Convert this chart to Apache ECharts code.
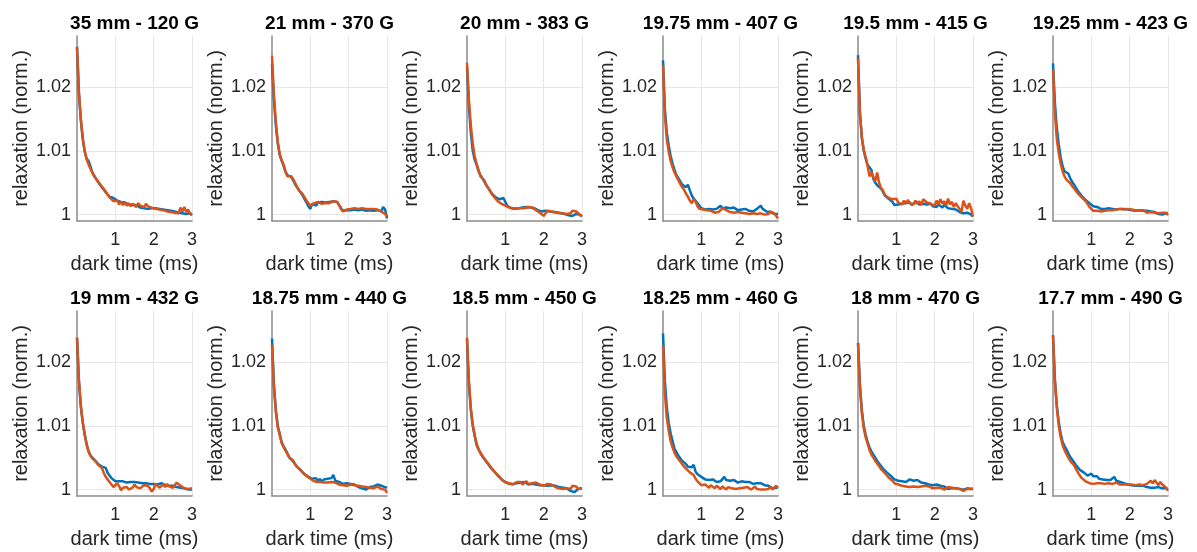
<!DOCTYPE html>
<html>
<head>
<meta charset="utf-8">
<script src="https://cdn.jsdelivr.net/npm/echarts@6/dist/echarts.min.js"></script>
<style>
html,body{margin:0;padding:0;background:#fff;}
#chart{width:1197px;height:552px;}
</style>
</head>
<body>
<div id="chart"></div>
<script>
// ---- data ----
const panelTitles = ["35 mm - 120 G","21 mm - 370 G","20 mm - 383 G","19.75 mm - 407 G","19.5 mm - 415 G","19.25 mm - 423 G","19 mm - 432 G","18.75 mm - 440 G","18.5 mm - 450 G","18.25 mm - 460 G","18 mm - 470 G","17.7 mm - 490 G"];
const xTicks = [1, 2, 3];
const yTicks = [1, 1.01, 1.02];
const time = [0,0.05,0.1,0.15,0.2,0.25,0.3,0.35,0.4,0.45,0.5,0.55,0.6,0.65,0.7,0.75,0.8,0.85,0.9,0.95,1,1.05,1.1,1.15,1.2,1.25,1.3,1.35,1.4,1.45,1.5,1.55,1.6,1.65,1.7,1.75,1.8,1.85,1.9,1.95,2,2.05,2.1,2.15,2.2,2.25,2.3,2.35,2.4,2.45,2.5,2.55,2.6,2.65,2.7,2.75,2.8,2.85,2.9,2.95,3];

const blue1 = [1.0263,1.019,1.0148,1.0119,1.0099,1.0088,1.0084,1.0076,1.0066,1.006,1.0056,1.0051,1.0047,1.0043,1.0039,1.0035,1.0032,1.0028,1.0025,1.0026,1.0027,1.0022,1.0019,1.002,1.0018,1.0019,1.0017,1.0016,1.0017,1.0015,1.0014,1.0015,1.0012,1.0011,1.0012,1.001,1.0011,1.0009,1.0008,1.001,1.0009,1.001,1.0008,1.0009,1.0007,1.0008,1.0006,1.0007,1.0005,1.0006,1.0004,1.0005,1.0004,1.0003,1.0004,1.0002,1,1.0001,0.9999,1.0002,0.9999];
const orange1 = [1.0263,1.0192,1.015,1.012,1.01,1.0087,1.0079,1.0072,1.0066,1.0061,1.0056,1.0052,1.0048,1.0044,1.004,1.0036,1.0031,1.0027,1.0024,1.0021,1.0019,1.0022,1.0016,1.002,1.0015,1.0019,1.0014,1.0018,1.0013,1.0017,1.0015,1.0012,1.0018,1.0014,1.0016,1.0012,1.0017,1.0013,1.0015,1.0011,1.0014,1.0009,1.0012,1.0008,1.0011,1.0007,1.0009,1.0005,1.0008,1.0004,1.0007,1.0003,1.0006,1.0002,1.0011,1.0005,1.0012,1.0004,1.0008,1.0001,1.0002];
const blue2 = [1.0236,1.018,1.014,1.0112,1.0094,1.0085,1.0077,1.0068,1.0062,1.006,1.0059,1.0054,1.0048,1.0043,1.0039,1.0036,1.003,1.0024,1.0019,1.0013,1.0009,1.0017,1.002,1.0014,1.0019,1.0016,1.002,1.0017,1.0019,1.0017,1.002,1.0018,1.0021,1.0023,1.002,1.0015,1.001,1.0006,1.0005,1.0007,1.0009,1.0007,1.001,1.0008,1.0009,1.0007,1.001,1.0008,1.0009,1.0006,1.0009,1.0007,1.0008,1.0006,1.0009,1.0007,1.0006,1.0005,1.0012,1.0008,0.9994];
const orange2 = [1.0249,1.0188,1.0146,1.0114,1.0095,1.0085,1.0079,1.0067,1.006,1.0057,1.006,1.0056,1.005,1.0044,1.0038,1.0036,1.0032,1.0027,1.0022,1.0018,1.0014,1.0015,1.0018,1.0017,1.002,1.0018,1.0017,1.0019,1.0018,1.002,1.0018,1.0019,1.0021,1.0024,1.002,1.0015,1.0009,1.0005,1.0006,1.0008,1.0007,1.0009,1.0008,1.001,1.0008,1.0009,1.0007,1.001,1.0008,1.0009,1.0007,1.0009,1.0008,1.0009,1.0007,1.0008,1.0006,1.0005,1.0004,1.0001,0.9997];
const blue3 = [1.0232,1.017,1.0128,1.01,1.0086,1.0078,1.0068,1.0062,1.006,1.0052,1.0046,1.0042,1.0037,1.0033,1.003,1.0027,1.0025,1.0024,1.0025,1.0026,1.002,1.0014,1.0012,1.001,1.0011,1.0009,1.0011,1.001,1.0009,1.0011,1.001,1.0012,1.0009,1.0011,1.0008,1.001,1.0009,1.0007,1.0006,1.0005,1.0004,1.0006,1.0007,1.0005,1.0006,1.0004,1.0005,1.0003,1.0004,1.0002,1.0003,1.0001,1,0.9999,1.0001,0.9998,1,1.0001,0.9999,1,0.9997];
const orange3 = [1.0238,1.018,1.014,1.0111,1.0092,1.008,1.007,1.006,1.0058,1.0054,1.0047,1.0042,1.0038,1.0032,1.0028,1.0025,1.0021,1.0019,1.0017,1.0015,1.0014,1.0012,1.0011,1.0012,1.001,1.0011,1.001,1.0011,1.001,1.0012,1.001,1.0011,1.0012,1.0009,1.0011,1.0008,1.0007,1.0009,1.0003,1.0001,0.9998,1.0002,1.0006,1.0003,1.0005,1.0007,1.0004,1.0006,1.0003,1.0005,1.0002,1.0004,1.0001,1.0003,1.0002,1.0006,1.0009,1.0005,1.0002,0.9999,0.9998];
const blue4 = [1.0242,1.0165,1.0128,1.0108,1.0092,1.008,1.007,1.0062,1.0057,1.0052,1.0047,1.0044,1.0043,1.0047,1.0038,1.003,1.0025,1.0022,1.0018,1.0014,1.001,1.0012,1.0008,1.0011,1.0009,1.0012,1.0008,1.001,1.0009,1.0011,1.0014,1.001,1.0008,1.0011,1.0009,1.001,1.0008,1.0011,1.0009,1.0007,1.001,1.0008,1.0006,1.0009,1.0007,1.0006,1.0008,1.0005,1.0007,1.0009,1.0012,1.0014,1.0009,1.0007,1.0005,1.0003,1.0004,1.0002,1.0001,1.0003,1.0001];
const orange4 = [1.0235,1.0155,1.0118,1.0098,1.0084,1.0074,1.0066,1.006,1.0054,1.0048,1.0043,1.0039,1.0033,1.0028,1.0022,1.0018,1.0024,1.002,1.0013,1.0009,1.0006,1.0008,1.0005,1.0007,1.0004,1.0006,1.0005,1.0003,1.0006,1.0004,1.0007,1.001,1.0013,1.0007,1.0005,1.0004,1.0006,1.0003,1.0005,1.0004,1.0006,1.0003,1.0005,1.0002,1.0004,1.0001,1.0003,1.0002,1.0004,1.0001,1.0003,1.0002,1.0001,1,1.0003,1.0001,1.0005,1.0006,1.0002,1.0004,0.9994];
const blue5 = [1.025,1.016,1.012,1.01,1.0088,1.0078,1.008,1.007,1.0056,1.005,1.0046,1.0043,1.0041,1.0036,1.003,1.0027,1.0025,1.0023,1.002,1.0015,1.0012,1.0016,1.0014,1.0017,1.0015,1.0018,1.0016,1.0019,1.0015,1.0017,1.002,1.0018,1.0016,1.0019,1.0017,1.002,1.0016,1.0014,1.0017,1.0013,1.0015,1.0012,1.0016,1.0014,1.0011,1.0015,1.0012,1.001,1.0013,1.0009,1.001,1.0008,1.0006,1.0004,1.0003,1.0002,1.0001,1.0003,1.0001,1,0.9997];
const orange5 = [1.0245,1.016,1.0122,1.0102,1.009,1.0076,1.006,1.0066,1.0064,1.0052,1.0066,1.005,1.0042,1.0038,1.0031,1.0028,1.0026,1.0024,1.0024,1.0022,1.0025,1.0019,1.0021,1.0016,1.0022,1.0017,1.0023,1.0018,1.002,1.0016,1.0022,1.0017,1.0021,1.0015,1.0024,1.0026,1.0019,1.0022,1.0017,1.002,1.0014,1.0022,1.0016,1.0024,1.0017,1.0021,1.0014,1.0025,1.0016,1.002,1.0012,1.0018,1.0013,1.0009,1.0004,1.0022,1.0014,1.0009,1.0018,1.001,0.9997];
const blue6 = [1.0237,1.0175,1.0135,1.011,1.009,1.0076,1.0068,1.0066,1.0064,1.0057,1.0051,1.0047,1.0042,1.0037,1.0033,1.0029,1.0026,1.0023,1.002,1.0018,1.0016,1.0013,1.0011,1.0012,1.001,1.0009,1.0011,1.0009,1.0012,1.001,1.0011,1.0009,1.001,1.0008,1.001,1.0009,1.0011,1.0009,1.001,1.0008,1.0009,1.0007,1.0009,1.0006,1.0008,1.0007,1.0005,1.0006,1.0004,1.0006,1.0003,1.0005,1.0002,1.0004,1.0003,1.0001,1.0002,1,1.0001,1.0002,1.0002];
const orange6 = [1.0228,1.016,1.0118,1.0096,1.008,1.0068,1.006,1.0055,1.0052,1.0049,1.0045,1.0041,1.0037,1.0033,1.003,1.0027,1.0024,1.0021,1.0017,1.0012,1.0009,1.0006,1.0004,1.0006,1.0008,1.0005,1.0007,1.0006,1.0008,1.0007,1.0008,1.0007,1.0006,1.0008,1.0007,1.0009,1.0006,1.0008,1.0007,1.0009,1.0006,1.0008,1.0006,1.0007,1.0005,1.0006,1.0004,1.0007,1.0005,1.0003,1.0006,1.0004,1.0005,1.0003,1.0004,1.0002,1.0004,1.0003,1.0005,1.0003,0.9999];
const blue7 = [1.0238,1.017,1.013,1.0105,1.0087,1.0072,1.006,1.0054,1.005,1.0047,1.0044,1.004,1.0038,1.0036,1.0037,1.0034,1.0026,1.0022,1.0018,1.0015,1.0013,1.0012,1.0013,1.0012,1.0013,1.0012,1.0011,1.0013,1.0012,1.0011,1.0012,1.001,1.0011,1.0012,1.001,1.0011,1.001,1.0011,1.0009,1.001,1.0009,1.001,1.0008,1.0009,1.001,1.0008,1.0007,1.0008,1.0006,1.0007,1.0006,1.0005,1.0004,1.0005,1.0003,1.0004,1.0002,1.0001,1,1.0001,1];
const orange7 = [1.0238,1.0172,1.0132,1.0106,1.0086,1.0071,1.006,1.0053,1.0049,1.0046,1.0043,1.0039,1.0037,1.0034,1.0026,1.002,1.0016,1.0012,1.0008,1.0004,1.0007,1.001,1.0005,0.9999,1.0003,1.0006,1.0004,1,0.9998,1.0003,1.0008,1.0004,1.0006,1.0002,1.0005,1.0007,1.0004,1.0006,1.0002,0.9997,1.0001,1.0009,1.0006,1.0003,1.0006,1.0008,1.0004,1.0009,1.0005,1.0007,1.0003,1.0005,1.0011,1.0014,1.0006,1.0007,1.0002,1,1.0001,1.0002,1.0002];
const blue8 = [1.0237,1.0165,1.0125,1.01,1.0088,1.0075,1.0068,1.0063,1.0057,1.0051,1.0048,1.0044,1.004,1.0036,1.0033,1.003,1.0027,1.0024,1.0022,1.002,1.0018,1.0017,1.0014,1.0018,1.0013,1.0017,1.0012,1.0016,1.0014,1.0017,1.0015,1.0018,1.0023,1.0014,1.0013,1.0012,1.001,1.0009,1.0008,1.001,1.0008,1.0009,1.0007,1.0008,1.0006,1.0004,1.0005,1.0002,1.0003,1,1.0002,1.0004,1.0001,1.0005,1.0006,1.0008,1.0005,1.0006,1.0003,1.0004,1.0003];
const orange8 = [1.0227,1.016,1.0122,1.0098,1.0086,1.0073,1.0067,1.0064,1.0056,1.005,1.005,1.0046,1.004,1.0036,1.0033,1.003,1.0027,1.0024,1.0022,1.0019,1.0017,1.0015,1.0013,1.0012,1.0011,1.0012,1.001,1.0011,1.0009,1.0011,1.001,1.0012,1.0009,1.0011,1.001,1.0008,1.0009,1.0007,1.0008,1.0006,1.0007,1.0008,1.0006,1.0007,1.0005,1.0006,1.0003,1.0005,1.0006,1.0004,1.0007,1.0003,1.0005,1.0002,1.0004,1.0005,1.0003,1.0001,1.0004,1,0.9995];
const blue9 = [1.0236,1.0165,1.0125,1.01,1.0084,1.007,1.0063,1.0058,1.0052,1.005,1.0044,1.004,1.0036,1.0032,1.0029,1.0026,1.0022,1.002,1.0016,1.0013,1.0012,1.0011,1.0009,1.0011,1.0009,1.0012,1.001,1.0008,1.0011,1.0009,1.0012,1.001,1.0008,1.0011,1.0009,1.001,1.0008,1.0009,1.0007,1.0008,1.0007,1.0008,1.0006,1.0008,1.0007,1.0005,1.0006,1.0003,1.0004,1.0002,1.0003,1,1.0002,1.0001,0.9998,1,0.9996,0.9999,1.0001,1,1.0002];
const orange9 = [1.0238,1.017,1.0128,1.0102,1.0086,1.0072,1.0064,1.0057,1.0053,1.0051,1.0045,1.0041,1.0037,1.0033,1.003,1.0026,1.0023,1.002,1.0016,1.0013,1.0011,1.0012,1.001,1.0012,1.0008,1.0011,1.0012,1.0009,1.0012,1.0008,1.0011,1.0013,1.0009,1.0012,1.001,1.0008,1.0011,1.0009,1.0008,1.001,1.0006,1.0008,1.0009,1.0007,1.0008,1.0006,1.0004,1.0007,1.0002,1.0005,1.0001,1.0004,1.0002,1.0005,1.0001,1.0006,1.0003,1.0005,1.0001,1.0002,1.0002];
const blue10 = [1.0245,1.017,1.0128,1.0104,1.0088,1.0076,1.0064,1.0059,1.0053,1.0049,1.0045,1.0042,1.004,1.0036,1.0033,1.0035,1.0039,1.0028,1.0024,1.0022,1.002,1.0018,1.0016,1.0014,1.0015,1.0013,1.0016,1.0014,1.0012,1.0015,1.0013,1.0016,1.002,1.0015,1.0013,1.0014,1.0012,1.0015,1.0013,1.0011,1.0012,1.0013,1.0011,1.0012,1.001,1.0012,1.0011,1.0009,1.0012,1.001,1.0008,1.001,1.0011,1.0007,1.0005,1.0006,1.0004,1.0002,1.0005,1.0003,1.0004];
const orange10 = [1.0226,1.015,1.0112,1.0092,1.0076,1.0066,1.0058,1.0052,1.0048,1.0044,1.004,1.0037,1.0033,1.003,1.0027,1.0025,1.0023,1.0017,1.0013,1.001,1.0007,1.0005,1.0008,1.0006,1.0003,1.0007,1.0005,1.0002,1.0006,1.0004,1.0001,1.0005,1.0003,1,1.0004,1.0006,1.0002,1.0005,1.0001,1.0004,1.0002,1.0005,1.0003,1.0001,1.0004,1.0002,1,1.0003,1.0005,1.0001,1.0004,1,1.0002,1,1.0003,1.0001,1.0005,1,0.9999,1.0006,1.0003];
const blue11 = [1.023,1.0165,1.0125,1.01,1.0086,1.0075,1.0066,1.006,1.0055,1.005,1.0045,1.0041,1.0037,1.0033,1.003,1.0027,1.0024,1.0022,1.0019,1.0016,1.0015,1.0014,1.0015,1.0013,1.0015,1.0012,1.0014,1.0016,1.0013,1.0014,1.0012,1.0015,1.0013,1.0011,1.0012,1.001,1.0009,1.0008,1.0009,1.0007,1.0006,1.0008,1.0005,1.0006,1.0004,1.0005,1.0003,1.0001,0.9999,1.0002,1.0004,1.0002,1.0003,1.0001,1.0002,1,1.0001,1.0002,1.0003,1.0001,1.0002];
const orange11 = [1.0229,1.0162,1.012,1.0096,1.0082,1.0072,1.0062,1.0055,1.005,1.0045,1.0041,1.0037,1.0032,1.0029,1.0026,1.0023,1.0019,1.0017,1.0014,1.001,1.0009,1.0008,1.0007,1.0006,1.0007,1.0005,1.0006,1.0004,1.0006,1.0005,1.0007,1.0004,1.0006,1.0005,1.0004,1.0006,1.0003,1.0005,1.0004,1.0002,1.0004,1.0003,1.0001,1.0003,1.0002,1,1.0002,1.0004,1.0001,1.0003,1.0001,1.0002,0.9999,1.0001,1,0.9998,0.9999,1.0001,0.9999,1.0001,1.0001];
const blue12 = [1.0242,1.0172,1.0132,1.0106,1.0088,1.0075,1.0068,1.0063,1.0057,1.0051,1.0048,1.0043,1.0038,1.0035,1.0031,1.0029,1.0027,1.0024,1.0022,1.0024,1.0025,1.0021,1.0019,1.0021,1.0017,1.002,1.0016,1.0019,1.0015,1.0018,1.0015,1.0016,1.002,1.0014,1.0013,1.0012,1.0011,1.001,1.0009,1.0008,1.0008,1.0007,1.0008,1.0006,1.0007,1.0006,1.0005,1.0006,1.0005,1.0004,1.0005,1.0003,1.0004,1.0003,1.0002,1.0004,1.0003,1.0002,1.0001,1.0002,1.0001];
const orange12 = [1.0242,1.017,1.0128,1.01,1.0082,1.007,1.0062,1.0056,1.005,1.0045,1.0043,1.0038,1.0032,1.0027,1.0022,1.0018,1.0015,1.0013,1.0012,1.001,1.001,1.0009,1.0011,1.001,1.0012,1.001,1.0011,1.0009,1.0012,1.001,1.0011,1.0009,1.001,1.0011,1.001,1.0008,1.0009,1.0008,1.0007,1.0008,1.0007,1.0008,1.0006,1.0007,1.0005,1.0008,1.0006,1.0007,1.0004,1.0009,1.0006,1.0014,1.001,1.0015,1.0012,1.0007,1.0012,1.0008,1.0005,1.0003,0.9998];

const blueSeries = [blue1,blue2,blue3,blue4,blue5,blue6,blue7,blue8,blue9,blue10,blue11,blue12];
const orangeSeries = [orange1,orange2,orange3,orange4,orange5,orange6,orange7,orange8,orange9,orange10,orange11,orange12];

// ---- layout ----
const FONT = "'Liberation Sans', Arial, Helvetica, sans-serif";
const colLefts = [77, 272, 467, 663, 858, 1053];
const rowTops = [36, 311];
const W = 115, H = 185;
const BLUE = '#0072BD', ORANGE = '#D95319';
const axisCol = '#8a8a8a', txtCol = '#262626';

const grids = [], xAxes = [], yAxes = [], series = [], titles = [];
for (let p = 0; p < 12; p++) {
  const r = Math.floor(p / 6), c = p % 6;
  const left = colLefts[c], top = rowTops[r];
  grids.push({left: left, top: top, width: W, height: H, containLabel: false});
  titles.push({
    text: panelTitles[p], left: left + W / 2 - 5, top: top - 27, textAlign: 'center',
    textStyle: {fontFamily: FONT, fontSize: 19, fontWeight: 'bold', color: '#000'}
  });
  xAxes.push({
    type: 'value', gridIndex: p, min: 0, max: 3,
    name: 'dark time (ms)', nameLocation: 'middle', nameGap: 33,
    nameTextStyle: {fontFamily: FONT, fontSize: 20, color: txtCol},
    axisLine: {show: true, onZero: false, lineStyle: {color: axisCol, width: 1.5}},
    axisTick: {show: false, customValues: xTicks},
    axisLabel: {customValues: xTicks, fontFamily: FONT, fontSize: 18, color: txtCol, margin: 10},
    splitLine: {show: true, lineStyle: {color: '#e6e6e6', width: 1}}
  });
  yAxes.push({
    type: 'value', gridIndex: p, min: 0.999, max: 1.028,
    name: 'relaxation (norm.)', nameLocation: 'middle', nameGap: 46,
    nameTextStyle: {fontFamily: FONT, fontSize: 20, color: txtCol},
    axisLine: {show: true, onZero: false, lineStyle: {color: axisCol, width: 1.5}},
    axisTick: {show: false, customValues: yTicks},
    axisLabel: {customValues: yTicks, fontFamily: FONT, fontSize: 18, color: txtCol, margin: 6,
      formatter: v => String(Math.round(v * 100) / 100)},
    splitLine: {show: true, lineStyle: {color: '#e6e6e6', width: 1}}
  });
  series.push({
    type: 'line', xAxisIndex: p, yAxisIndex: p, showSymbol: false, animation: false,
    lineStyle: {color: BLUE, width: 2.5}, itemStyle: {color: BLUE},
    data: time.map((t, i) => [t, blueSeries[p][i]])
  });
  series.push({
    type: 'line', xAxisIndex: p, yAxisIndex: p, showSymbol: false, animation: false,
    lineStyle: {color: ORANGE, width: 2.5}, itemStyle: {color: ORANGE},
    data: time.map((t, i) => [t, orangeSeries[p][i]])
  });
}

const chart = echarts.init(document.getElementById('chart'), null, {renderer: 'canvas'});
chart.setOption({
  backgroundColor: '#ffffff',
  animation: false,
  title: titles,
  grid: grids,
  xAxis: xAxes,
  yAxis: yAxes,
  series: series
});
</script>
</body>
</html>
